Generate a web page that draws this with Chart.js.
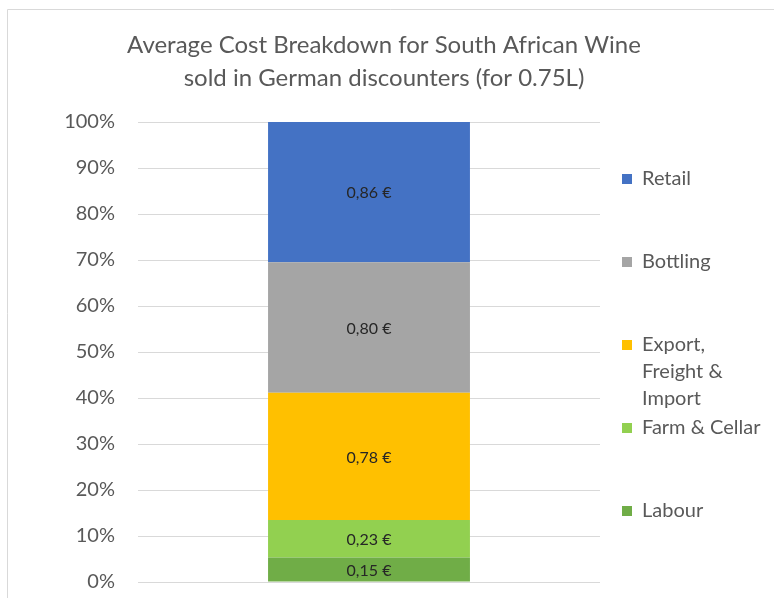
<!DOCTYPE html>
<html>
<head>
<meta charset="utf-8">
<script src="https://cdn.jsdelivr.net/npm/chart.js@4"></script>
<style>
  html, body { margin: 0; padding: 0; background: #fff; overflow: hidden; }
  #wrap { position: relative; width: 774px; height: 598px; overflow: hidden; }
</style>
</head>
<body>
<div id="wrap"><canvas id="chart" width="774" height="617"></canvas></div>
<script>
// cost per component, EUR per 0.75L bottle (bottom to top)
const components = ['Labour', 'Farm & Cellar', 'Export, Freight & Import', 'Bottling', 'Retail'];
const costs = [0.15, 0.23, 0.78, 0.80, 0.86];
const colors = ['#70AD47', '#92D050', '#FFC000', '#A5A5A5', '#4472C4'];
const yTicks = [0, 10, 20, 30, 40, 50, 60, 70, 80, 90, 100];
const titleLines = ['Average Cost Breakdown for South African Wine', 'sold in German discounters (for 0.75L)'];

// how the legend wraps long names
const legendWrap = { 'Export, Freight & Import': ['Export,', 'Freight &', 'Import'] };

const total = costs.reduce((a, b) => a + b, 0);
const FONT = 'Lato, "Open Sans", sans-serif';

// thin frame round the chart + title centred on the whole canvas
const framePlugin = {
    id: 'frame',
    beforeDraw(chart) {
        const c = chart.ctx;
        c.save();
        c.strokeStyle = '#d9d9d9';
        c.lineWidth = 1;
        c.beginPath();
        c.moveTo(7.5, chart.height);
        c.lineTo(7.5, 9.5);
        c.lineTo(chart.width, 9.5);
        c.stroke();
        c.font = '24px ' + FONT;
        c.fillStyle = '#595959';
        c.textAlign = 'center';
        c.textBaseline = 'middle';
        titleLines.forEach((t, j) => c.fillText(t, 384, 45 + j * 33));
        c.restore();
    }
};

// euro amount in the middle of each segment
const valuePlugin = {
    id: 'values',
    afterDatasetsDraw(chart) {
        const c = chart.ctx;
        c.save();
        c.font = '16px ' + FONT;
        c.fillStyle = '#262626';
        c.textAlign = 'center';
        c.textBaseline = 'middle';
        chart.data.datasets.forEach((ds, i) => {
            const bar = chart.getDatasetMeta(i).data[0];
            const mid = (bar.y + bar.base) / 2;
            c.fillText(costs[i].toFixed(2).replace('.', ',') + ' \u20ac', bar.x, mid + 1);
        });
        c.restore();
    }
};

// legend on the right, top item = top segment
const legendPlugin = {
    id: 'sideLegend',
    afterDraw(chart) {
        const c = chart.ctx;
        const area = chart.chartArea;
        c.save();
        c.font = '20px ' + FONT;
        c.textBaseline = 'middle';
        const n = chart.data.datasets.length;
        const step = 83;
        const x0 = area.right + 22;
        for (let k = 0; k < n; k++) {
            const i = n - 1 - k;
            const ds = chart.data.datasets[i];
            const y = area.top + 57 + k * step;
            c.fillStyle = ds.backgroundColor;
            c.fillRect(x0, y - 5, 10, 10);
            c.fillStyle = '#595959';
            const lines = legendWrap[ds.label] || [ds.label];
            lines.forEach((t, j) => c.fillText(t, x0 + 20, y + j * 27));
        }
        c.restore();
    }
};

new Chart(document.getElementById('chart'), {
    type: 'bar',
    data: {
        labels: [''],
        datasets: components.map((name, i) => ({
            label: name,
            data: [costs[i] / total * 100],
            backgroundColor: colors[i],
            borderWidth: 0,
            barPercentage: 0.437,
            categoryPercentage: 1
        }))
    },
    options: {
        responsive: false,
        animation: false,
        layout: { padding: { left: 7, right: 174, top: 122, bottom: 0 } },
        plugins: {
            legend: { display: false },
            tooltip: { enabled: false },
            title: { display: false }
        },
        scales: {
            x: {
                display: false,
                stacked: true
            },
            y: {
                stacked: true,
                min: 0,
                max: 100,
                afterBuildTicks(scale) { scale.ticks = yTicks.map(v => ({ value: v })); },
                afterFit(scale) { scale.width = 131; },
                grid: { color: '#d9d9d9', drawTicks: false },
                border: { display: false },
                ticks: {
                    color: '#595959',
                    padding: 23,
                    font: { family: FONT, size: 20 },
                    callback: v => v + '%'
                }
            }
        }
    },
    plugins: [framePlugin, valuePlugin, legendPlugin]
});
</script>
</body>
</html>
